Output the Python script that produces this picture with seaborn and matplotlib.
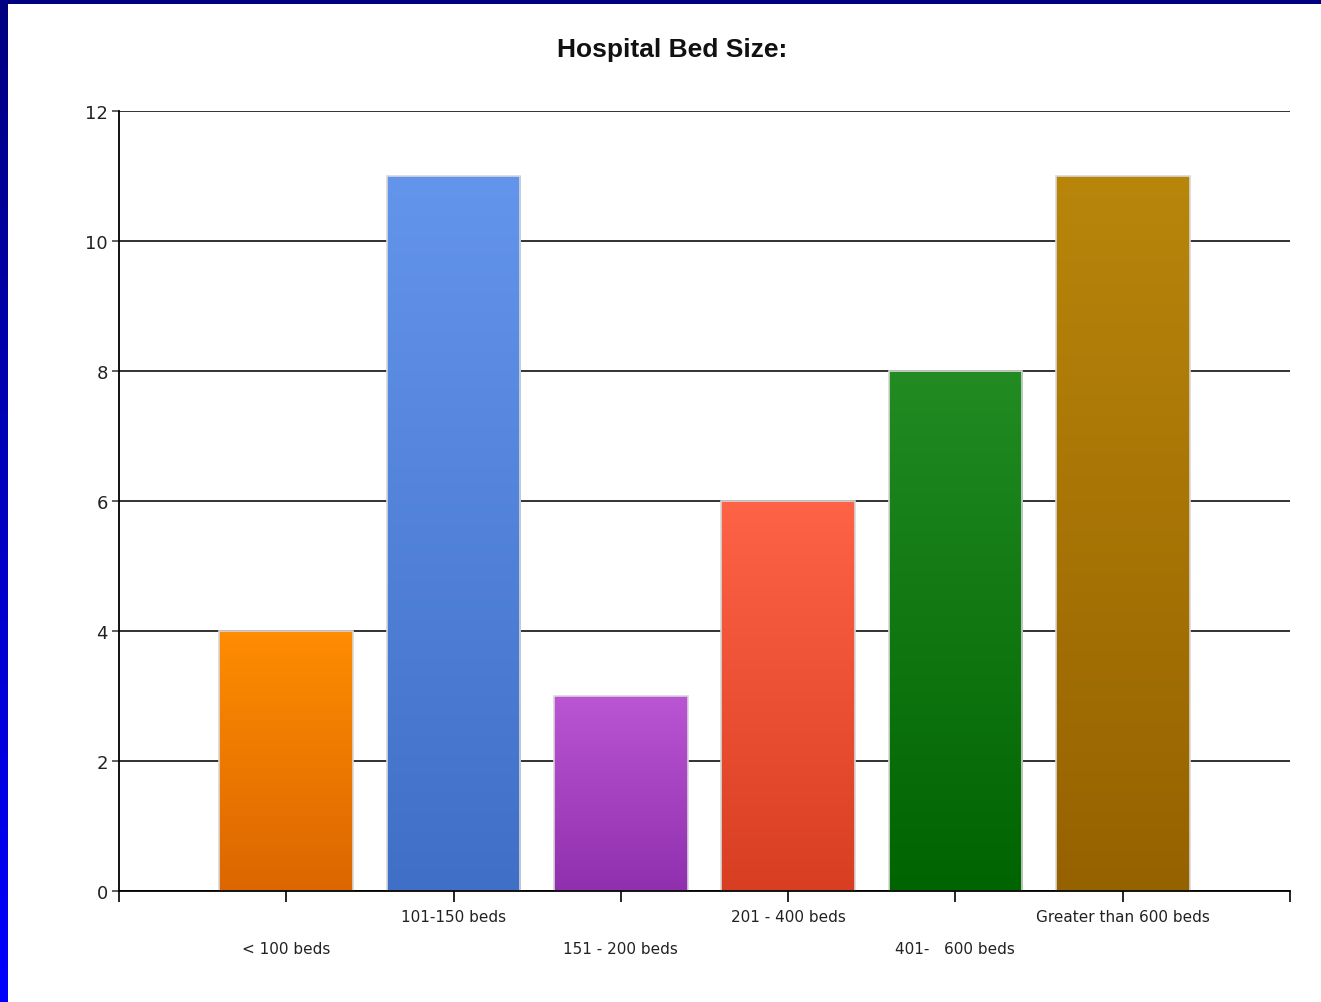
import matplotlib.pyplot as plt
import numpy as np
import pandas as pd
import seaborn as sns
from matplotlib.colors import LinearSegmentedColormap

categories = ['< 100 beds', '101-150 beds', '151 - 200 beds',
              '201 - 400 beds', '401-   600 beds', 'Greater than 600 beds']
counts = [4, 11, 3, 6, 8, 11]
top_colors = ['#FF8C00', '#6495ED', '#BA55D3', '#FF6347', '#228B22', '#B8860B']
bottom_colors = ['#DC6600', '#3F6FC6', '#9030AE', '#D83E22', '#006400', '#966200']
y_ticks = [0, 2, 4, 6, 8, 10, 12]

df = pd.DataFrame({'size': categories, 'count': counts})

sns.set_style('white')
plt.rcParams['font.family'] = ['DejaVu Sans']

W, H = 1321, 1003
fig = plt.figure(figsize=(W / 100, H / 100), dpi=100)

# slide-style border: gradient strip on the left, navy band on top
left = fig.add_axes([0, 0, 8 / W, 1])
left.imshow(np.linspace(0, 1, 256).reshape(-1, 1), aspect='auto',
            cmap=LinearSegmentedColormap.from_list('b', ['#000080', '#0000FF']))
left.axis('off')
top = fig.add_axes([0, 1 - 5 / H, 1, 5 / H])
top.set_facecolor('#000080')
top.set_xticks([])
top.set_yticks([])
for s in top.spines.values():
    s.set_visible(False)

ax = fig.add_axes([119 / W, 1 - 892 / H, (1290 - 119) / W, (892 - 112) / H])
sns.barplot(data=df, x='size', y='count', ax=ax, width=0.8,
            palette=top_colors, hue='size', legend=False, zorder=3)

ax.set_xlim(-1, 6)
ax.set_ylim(0, 12)
ax.set_yticks(y_ticks)
ax.set_yticklabels([str(v) for v in y_ticks], fontsize=13, color='#222222')
ax.set_xticks(range(-1, 7))
labels = [''] + [('\n' if i % 2 == 0 else '') + c for i, c in enumerate(categories)] + ['']
ax.set_xticklabels(labels, fontsize=11, color='#222222', va='top', linespacing=2.4)
ax.tick_params(axis='x', bottom=True, length=8, width=1.2, color='black', pad=5)
ax.tick_params(axis='y', left=True, length=5, width=1.2, color='#444444', pad=3)
ax.set_xlabel('')
ax.set_ylabel('')

for y in y_ticks:
    ax.axhline(y, color='#222222', lw=1.3, zorder=1)
for side in ['top', 'right']:
    ax.spines[side].set_visible(False)
for side in ['left', 'bottom']:
    ax.spines[side].set_color('black')
    ax.spines[side].set_linewidth(1.3)
    ax.spines[side].set_zorder(5)

# vertical colour gradient in each bar, lighter at the top
for patch, c_top, c_bot in zip(ax.patches, top_colors, bottom_colors):
    x0, y0 = patch.get_x(), patch.get_y()
    w, h = patch.get_width(), patch.get_height()
    cmap = LinearSegmentedColormap.from_list('g', [c_top, c_bot])
    im = ax.imshow(np.linspace(0, 1, 256).reshape(-1, 1), cmap=cmap,
                   extent=[x0, x0 + w, y0, y0 + h], origin='upper',
                   aspect='auto', zorder=3, interpolation='bilinear')
    im.set_clip_path(patch)
    patch.set_edgecolor('#D8D8D8')
    patch.set_linewidth(1.2)
    patch.set_zorder(4)
    patch.set_facecolor('none')

ax.set_xlim(-1, 6)
ax.set_ylim(0, 12)

fig.text(672 / W, 1 - 50 / H, 'Hospital Bed Size:', ha='center', va='center',
         fontsize=19, fontweight='bold', color='#111111',
         family=['Liberation Sans', 'DejaVu Sans'])

fig.savefig('out.png', dpi=100)
